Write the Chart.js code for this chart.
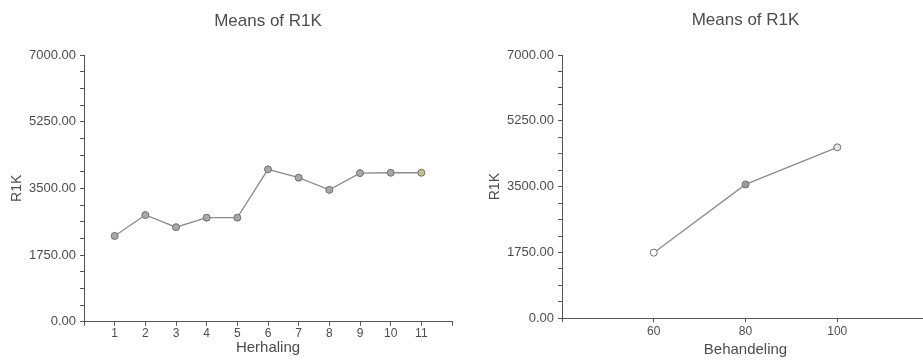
<!DOCTYPE html>
<html>
<head>
<meta charset="utf-8">
<script src="https://cdn.jsdelivr.net/npm/chart.js@4/dist/chart.umd.min.js"></script>
<style>
  html, body { margin: 0; padding: 0; background: #fff; overflow: hidden; }
  body { width: 923px; height: 361px; position: relative; }
  .chart { position: absolute; top: 0; width: 470px; height: 361px; }
  #left { left: 0; }
  #right { left: 478px; }
</style>
</head>
<body>
<div class="chart" id="left"><canvas id="chartHerhaling"></canvas></div>
<div class="chart" id="right"><canvas id="chartBehandeling"></canvas></div>
<script>
"use strict"

// Gemiddelde R1K per herhaling
const herhaling = [1, 2, 3, 4, 5, 6, 7, 8, 9, 10, 11]
const r1kHerhaling = [2250, 2800, 2480, 2730, 2730, 4000, 3780, 3460, 3900, 3910, 3910]

// Gemiddelde R1K per behandeling
const behandeling = [60, 80, 100]
const r1kBehandeling = [1745, 3560, 4545]

// Labels op de y-as
const yLabels = [0, 1750, 3500, 5250, 7000]

const FONT = "'Liberation Sans', Arial, sans-serif"
const TEXT = "#4d4d4d"
const AXIS = "#555"

function makeChart(canvasId, cfg) {
  return new Chart(document.getElementById(canvasId), {
    type: "line",
    data: {
      datasets: [{
        data: cfg.x.map((x, i) => ({ x: x, y: cfg.y[i] })),
        borderColor: "#8c8c8c",
        borderWidth: 1.3,
        pointRadius: 3.5,
        pointBorderWidth: 1,
        pointBorderColor: "#707070",
        pointBackgroundColor: cfg.pointFill,
        tension: 0
      }]
    },
    options: {
      responsive: true,
      maintainAspectRatio: false,
      animation: false,
      layout: { padding: { right: cfg.padRight } },
      plugins: {
        legend: { display: false },
        tooltip: { enabled: false },
        title: {
          display: true,
          fullSize: false,
          text: "Means of R1K",
          color: TEXT,
          font: { family: FONT, size: 17, weight: "normal" },
          padding: cfg.titlePadding
        }
      },
      scales: {
        x: {
          type: "linear",
          min: cfg.xMin,
          max: cfg.xMax,
          afterFit: scale => { scale.height = cfg.xHeight },
          ticks: {
            stepSize: cfg.xStep,
            autoSkip: false,
            maxRotation: 0,
            padding: cfg.xTickPad,
            color: TEXT,
            font: { family: FONT, size: 12 },
            callback: v => cfg.x.includes(v) ? String(v) : ""
          },
          grid: { drawOnChartArea: false, drawTicks: true, tickLength: 4, color: AXIS },
          border: { color: AXIS, width: 1 },
          title: {
            display: true,
            text: cfg.xTitle,
            color: TEXT,
            font: { family: FONT, size: 15 },
            padding: { top: 0, bottom: cfg.xTitlePad }
          }
        },
        y: {
          min: 0,
          max: 7000,
          afterFit: scale => { scale.width = 84 },
          ticks: {
            stepSize: 437.5,
            autoSkip: false,
            padding: 4,
            color: TEXT,
            font: { family: FONT, size: 13 },
            callback: v => yLabels.includes(v) ? v.toFixed(2) : ""
          },
          grid: { drawOnChartArea: false, drawTicks: true, tickLength: 4, color: AXIS },
          border: { color: AXIS, width: 1 },
          title: {
            display: true,
            text: "R1K",
            color: TEXT,
            font: { family: FONT, size: 14 },
            padding: { top: 9, bottom: 0 }
          }
        }
      }
    }
  })
}

makeChart("chartHerhaling", {
  x: herhaling,
  y: r1kHerhaling,
  xMin: 0,
  xMax: 12,
  xStep: 1,
  xTitle: "Herhaling",
  xHeight: 39.3,
  xTickPad: 1,
  xTitlePad: 4,
  padRight: 18,
  titlePadding: { top: 11, bottom: 23.6 },
  pointFill: herhaling.map((_, i) => i === herhaling.length - 1 ? "#c2c28a" : "#a8a8a8")
})

makeChart("chartBehandeling", {
  x: behandeling,
  y: r1kBehandeling,
  xMin: 40,
  xMax: 120,
  xStep: 20,
  xTitle: "Behandeling",
  xHeight: 42.7,
  xTickPad: 2.5,
  xTitlePad: 2,
  padRight: 19,
  titlePadding: { top: 10, bottom: 24.6 },
  pointFill: ["#ffffff", "#9a9a9a", "#e6e6e6"]
})
</script>
</body>
</html>
